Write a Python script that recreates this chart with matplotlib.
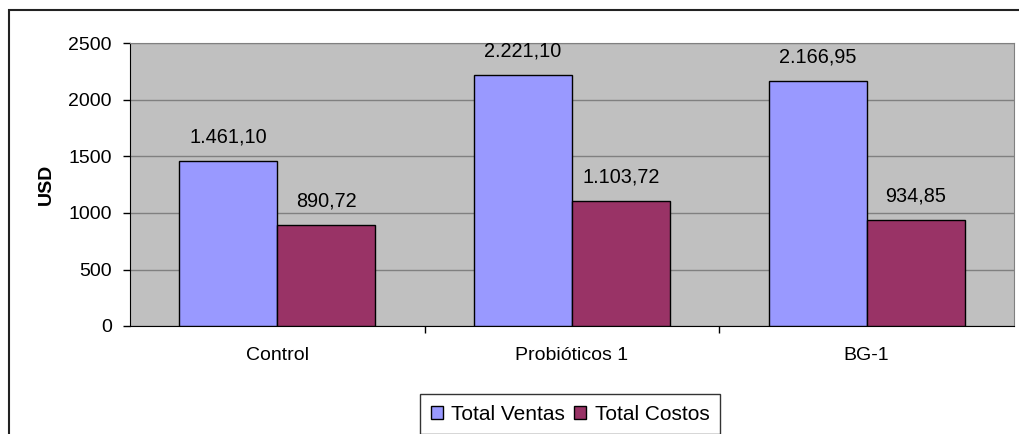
import matplotlib
matplotlib.use("Agg")
import matplotlib.pyplot as plt
import numpy as np
from matplotlib.patches import Rectangle

categories = ["Control", "Probióticos 1", "BG-1"]
ventas = [1461.10, 2221.10, 2166.95]
costos = [890.72, 1103.72, 934.85]
series_names = ["Total Ventas", "Total Costos"]

plt.rcParams['font.family'] = ['Liberation Sans', 'DejaVu Sans']
FS = 14

def fmt(v):
    s = f"{v:,.2f}"
    return s.replace(",", "X").replace(".", ",").replace("X", ".")

fig = plt.figure(figsize=(10.19, 4.34), dpi=100)
ax = fig.add_axes([130/1019, 1-326/434, (1014-130)/1019, (326-43.5)/434])
ax.set_facecolor("#C0C0C0")

x = np.arange(len(categories))
w = 0.333
b1 = ax.bar(x - w/2, ventas, w, color="#9999FF", edgecolor="black", linewidth=1, zorder=3, label=series_names[0])
b2 = ax.bar(x + w/2, costos, w, color="#993366", edgecolor="black", linewidth=1, zorder=3, label=series_names[1])

for bars, vals in ((b1, ventas), (b2, costos)):
    for r, v in zip(bars, vals):
        ax.annotate(fmt(v), (r.get_x() + r.get_width()/2, v), xytext=(0, 17.5),
                    textcoords="offset points", ha="center", va="center", fontsize=14.3)

ax.set_xlim(-0.5, 2.5)
ax.set_ylim(0, 2500)
ax.set_yticks([0, 500, 1000, 1500, 2000, 2500])
ax.yaxis.grid(True, color="#808080", linewidth=1, zorder=0)
ax.set_axisbelow(True)
ax.tick_params(axis="y", labelsize=FS, length=5, direction="out", width=1, pad=8)
ax.set_xticks([0.5, 1.5], minor=False)
ax.set_xticklabels([])
ax.set_xticks(x, minor=True)
ax.set_xticklabels(categories, minor=True, fontsize=FS)
ax.tick_params(axis="x", which="major", length=5, width=1)
ax.tick_params(axis="x", which="minor", length=0, pad=15)
for s in ["left", "bottom"]:
    ax.spines[s].set_color("black")
for s in ["right", "top"]:
    ax.spines[s].set_color("#808080")
ax.set_ylabel("USD", fontsize=FS, fontweight="bold", labelpad=10)

leg = fig.legend(handles=[b1, b2], labels=series_names, loc="center",
                 bbox_to_anchor=(570/1019, 1-414/434), ncol=2, fontsize=15,
                 frameon=True, fancybox=False, edgecolor="black",
                 handlelength=0.58, handleheight=0.58, handletextpad=0.4,
                 columnspacing=0.45, borderpad=0.5, borderaxespad=0)
leg.get_frame().set_linewidth(1)

fig.patches.append(Rectangle((9/1019, -0.2), 1.2, 1-10/434+0.2, transform=fig.transFigure,
                             fill=False, edgecolor="#222222", linewidth=1.5))

fig.savefig("out.png", dpi=100)
